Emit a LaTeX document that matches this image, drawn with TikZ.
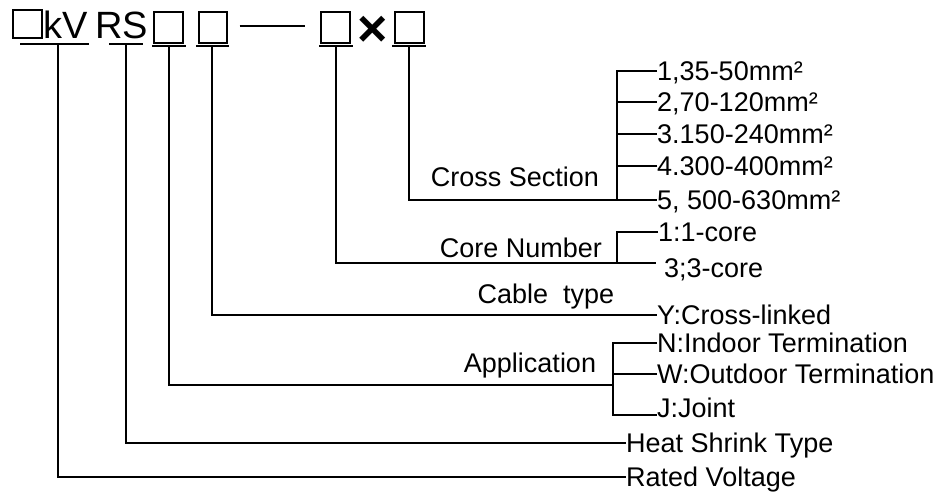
\documentclass[tikz,border=0pt]{standalone}
\usepackage{fontspec}
\setmainfont{Liberation Sans}
\usetikzlibrary{positioning,calc}
\tikzset{
  fieldbox/.style={
    rectangle, draw, line width=1.3pt,
    minimum width=29pt, minimum height=31pt,
    inner sep=0pt
  },
  codetext/.style={
    font=\fontsize{38}{42}\selectfont,
    inner sep=0pt, anchor=base west
  },
  rule/.style={line width=1.3pt},
  itemlabel/.style={
    font=\fontsize{27}{30}\selectfont,
    inner sep=0pt, anchor=west,
    text height=19.4pt, text depth=0pt
  },
  grouplabel/.style={
    font=\fontsize{27}{30}\selectfont,
    inner sep=0pt,
    text height=19.4pt, text depth=0pt
  },
}

\begin{document}
\begin{tikzpicture}[x=1pt, y=-1pt]
  \useasboundingbox (0,0) rectangle (949,491);

  % model code
  \node[fieldbox, minimum height=28pt] (f1) at (27.5,24) {};
  \node[codetext] (kv) at (43,38) {kV};
  \node[codetext] (rs) at (95,38) {RS};
  \node[fieldbox] (f2) at (168.5,27.5) {};
  \node[fieldbox, minimum width=28pt] (f3) at (213,27.5) {};
  \node[fieldbox] (f4) at (335.5,27.5) {};
  \node[font=\bfseries\fontsize{52}{52}\selectfont, inner sep=0pt] (times) at (372.5,31) {×};
  \node[fieldbox] (f5) at (409.5,27.5) {};
  \draw[rule] ([xshift=12pt,yshift=1.5pt]f3.east) -- ([xshift=-15pt,yshift=1.5pt]f4.west);

  % underlines
  \draw[rule] (20,44) -- (89,44);
  \draw[rule] (109,44) -- (143,44);
  \draw[rule] (152,46) -- (186,46);
  \draw[rule] (196,46) -- (229,46);
  \draw[rule] (319,46) -- (353,46);
  \draw[rule] (392,46) -- (426,46);
  \coordinate (uv) at (58,44);
  \coordinate (ut) at (126,44);
  \coordinate (ua) at (169,46);
  \coordinate (uc) at (212,46);
  \coordinate (un) at (336,46);
  \coordinate (us) at (409,46);

  % cross section
  \node[itemlabel] (cs1) at (657,71) {1,35-50mm²};
  \node[itemlabel] (cs2) at (657,102) {2,70-120mm²};
  \node[itemlabel] (cs3) at (657,134) {3.150-240mm²};
  \node[itemlabel] (cs4) at (657,166) {4.300-400mm²};
  \node[itemlabel] (cs5) at (657,200) {5, 500-630mm²};
  \node[grouplabel] (cs) at (515,177) {Cross Section};
  \coordinate (csb) at (617,200);
  \draw[rule] (us) |- (cs5.west);
  \draw[rule] (cs1.west) -| (csb);
  \foreach \n in {2,3,4}
    \draw[rule] (cs\n.west) -- (cs\n.west -| csb);

  % core number
  \node[itemlabel] (cn1) at (658,232) {1:1-core};
  \node[itemlabel] (cn3) at (664,268) {3;3-core};
  \node[grouplabel] (cn) at (521,248) {Core Number};
  \coordinate (cnb) at (617,263);
  \draw[rule] (un) |- ([xshift=-8pt,yshift=5pt]cn3.west);
  \draw[rule] (cn1.west) -| (cnb);

  % cable type
  \node[itemlabel] (ct1) at (657,315) {Y:Cross-linked};
  \node[grouplabel] (ct) at (546,294) {Cable\ \ type};
  \draw[rule] (uc) |- (ct1.west);

  % application
  \node[itemlabel] (ap1) at (657,343) {N:Indoor Termination};
  \node[itemlabel] (ap2) at (657,374) {W:Outdoor Termination};
  \node[itemlabel] (ap3) at (657,408) {J:Joint};
  \node[grouplabel] (ap) at (530,363) {Application};
  \coordinate (apb) at (613,385);
  \coordinate (apj) at ($(ap3.west)+(0,7)$);
  \draw[rule] (ua) |- (apb);
  \draw[rule] (ap1.west) -| (apb) |- (apj);
  \draw[rule] (ap2.west) -- (ap2.west -| apb);

  % heat shrink and voltage
  \node[itemlabel] (hs) at (626,443) {Heat Shrink Type};
  \node[itemlabel] (rv) at (626,477) {Rated Voltage};
  \draw[rule] (ut) |- (hs.west);
  \draw[rule] (uv) |- (rv.west);
\end{tikzpicture}
\end{document}
